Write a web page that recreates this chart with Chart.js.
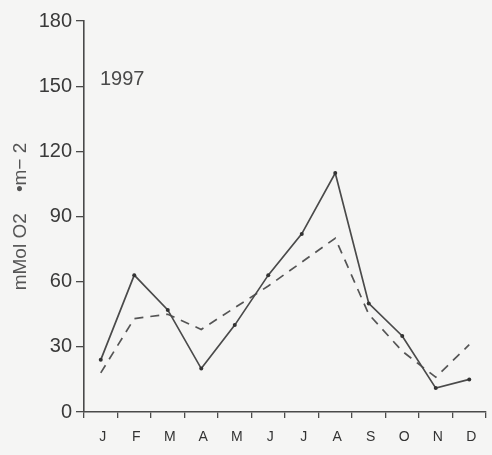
<!DOCTYPE html>
<html>
<head>
<meta charset="utf-8">
<script src="https://cdn.jsdelivr.net/npm/chart.js@4/dist/chart.umd.min.js"></script>
<style>
  html, body { margin: 0; padding: 0; background: #f5f5f4; }
  #wrap { width: 492px; height: 455px; position: relative; }
</style>
</head>
<body>
<div id="wrap"><canvas id="chart"></canvas></div>
<script>
"use strict";

// months of 1997
var months = ["J", "F", "M", "A", "M", "J", "J", "A", "S", "O", "N", "D"];
// solid line (with dots)
var solidVals = [24, 63, 47, 20, 40, 63, 82, 110, 50, 35, 11, 15];
// dashed line
var dashVals = [18, 43, 45, 38, 48, 58, 69, 80, 45, 28, 16, 31];
var yTicks = [0, 30, 60, 90, 120, 150, 180];
var yearLabel = "1997";
var yTitle = "mMol O2    \u2022m\u2212 2";

var ink = "#4a4a4a";

var yearPlugin = {
  id: "year",
  afterDraw: function(chart) {
    var ctx = chart.ctx;
    var y = chart.scales.y;
    ctx.save();
    ctx.fillStyle = ink;
    ctx.font = "20px 'Liberation Sans', Arial, sans-serif";
    ctx.textBaseline = "middle";
    ctx.textAlign = "left";
    ctx.fillText(yearLabel, chart.chartArea.left + 16, y.getPixelForValue(153));
    ctx.restore();
  }
};

var ctx = document.getElementById("chart").getContext("2d");
var myChart = new Chart(ctx, {
  type: "line",
  data: {
    labels: months,
    datasets: [{
      label: "solid",
      data: solidVals,
      borderColor: ink,
      borderWidth: 1.7,
      pointRadius: 2,
      pointBackgroundColor: "#333",
      pointBorderWidth: 0,
      tension: 0
    }, {
      label: "dashed",
      data: dashVals,
      borderColor: "#555",
      borderWidth: 1.7,
      borderDash: [9, 7],
      pointRadius: 0,
      tension: 0
    }]
  },
  options: {
    responsive: true,
    maintainAspectRatio: false,
    animation: false,
    layout: { padding: { left: 0, right: 6, top: 21, bottom: 0 } },
    plugins: {
      legend: { display: false },
      tooltip: { enabled: false }
    },
    scales: {
      x: {
        type: "category",
        offset: true,
        afterFit: function(scale) { scale.height = 43; },
        grid: { display: true, drawOnChartArea: false, tickLength: 6, color: ink, lineWidth: 1.3, offset: true },
        border: { display: true, color: ink, width: 1.6 },
        ticks: {
          color: "#333",
          padding: 11,
          labelOffset: 2,
          maxRotation: 0,
          autoSkip: false,
          font: { family: "'Liberation Sans', Arial, sans-serif", size: 14 }
        }
      },
      y: {
        min: 0,
        max: 180,
        afterFit: function(scale) { scale.width = 84; },
        afterBuildTicks: function(scale) {
          scale.ticks = yTicks.map(function(v) { return { value: v }; });
        },
        grid: { display: true, drawOnChartArea: false, tickLength: 8, color: ink, lineWidth: 1.3 },
        border: { display: true, color: ink, width: 1.6 },
        ticks: {
          color: "#3a3a3a",
          padding: 4,
          font: { family: "'Liberation Sans', Arial, sans-serif", size: 20 }
        },
        title: {
          display: true,
          text: yTitle,
          color: "#555",
          padding: { top: 9, bottom: 0 },
          font: { family: "'Liberation Sans', Arial, sans-serif", size: 19 }
        }
      }
    }
  },
  plugins: [yearPlugin]
});
</script>
</body>
</html>
